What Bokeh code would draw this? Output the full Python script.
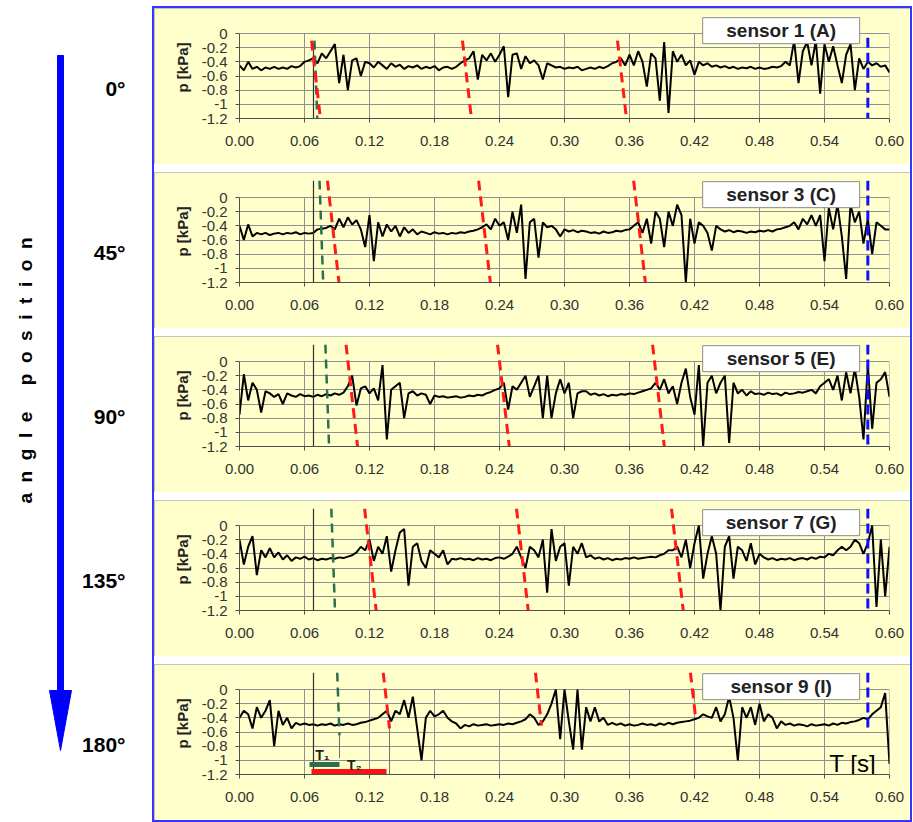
import numpy as np
from bokeh.plotting import figure
from bokeh.layouts import row, column
from bokeh.models import Range1d, FixedTicker, PrintfTickFormatter, Spacer
from bokeh.core.properties import value
from bokeh.embed import file_html
from bokeh.resources import INLINE

# ---------------- data ----------------
TIME = np.round(np.arange(151) * 0.004, 3)   # s, sampling grid of the read-off curves

SENSOR_NAMES = ["sensor 1 (A)", "sensor 3 (C)", "sensor 5 (E)", "sensor 7 (G)", "sensor 9 (I)"]
ANGLES = ["0°", "45°", "90°", "135°", "180°"]
X_TICKS = [0.00, 0.06, 0.12, 0.18, 0.24, 0.30, 0.36, 0.42, 0.48, 0.54, 0.60]
Y_TICKS = [0, -0.2, -0.4, -0.6, -0.8, -1.0, -1.2]
Y_TICK_LABELS = ["0", "-0.2", "-0.4", "-0.6", "-0.8", "-1", "-1.2"]

S1 = [-0.45, -0.52, -0.40, -0.50, -0.47, -0.52, -0.48, -0.50, -0.47, -0.50,
      -0.48, -0.50, -0.46, -0.48, -0.46, -0.40, -0.38, -0.35, -0.42, -0.28,
      -0.35, -0.25, -0.15, -0.70, -0.30, -0.80, -0.38, -0.35, -0.60, -0.40,
      -0.42, -0.48, -0.40, -0.45, -0.50, -0.42, -0.47, -0.44, -0.50, -0.46,
      -0.48, -0.45, -0.50, -0.47, -0.49, -0.46, -0.52, -0.48, -0.47, -0.50,
      -0.47, -0.42, -0.38, -0.35, -0.25, -0.65, -0.30, -0.38, -0.28, -0.40,
      -0.30, -0.18, -0.90, -0.30, -0.28, -0.50, -0.32, -0.42, -0.38, -0.45,
      -0.65, -0.42, -0.45, -0.48, -0.47, -0.50, -0.48, -0.49, -0.47, -0.52,
      -0.50, -0.48, -0.50, -0.47, -0.49, -0.46, -0.42, -0.40, -0.35, -0.45,
      -0.30, -0.45, -0.25, -0.40, -0.75, -0.28, -0.35, -0.95, -0.12, -1.12,
      -0.25, -0.40, -0.30, -0.45, -0.38, -0.58, -0.40, -0.45, -0.42, -0.47,
      -0.45, -0.48, -0.46, -0.49, -0.47, -0.50, -0.48, -0.49, -0.47, -0.50,
      -0.48, -0.50, -0.49, -0.47, -0.48, -0.46, -0.40, -0.45, -0.10, -0.70,
      -0.25, -0.12, -0.45, -0.10, -0.85, -0.15, -0.40, -0.18, -0.45, -0.70,
      -0.30, -0.15, -0.80, -0.35, -0.50, -0.40, -0.45, -0.42, -0.47, -0.45,
      -0.55]

S3 = [-0.40, -0.60, -0.38, -0.55, -0.50, -0.52, -0.50, -0.53, -0.51, -0.50,
      -0.52, -0.50, -0.51, -0.49, -0.52, -0.50, -0.51, -0.50, -0.45, -0.44,
      -0.43, -0.40, -0.45, -0.30, -0.42, -0.28, -0.38, -0.32, -0.45, -0.70,
      -0.25, -0.90, -0.35, -0.55, -0.38, -0.48, -0.40, -0.55, -0.42, -0.50,
      -0.45, -0.52, -0.48, -0.50, -0.52, -0.49, -0.51, -0.50, -0.52, -0.50,
      -0.51, -0.49, -0.50, -0.48, -0.47, -0.45, -0.42, -0.38, -0.45, -0.30,
      -0.40, -0.35, -0.60, -0.20, -0.50, -0.10, -1.15, -0.35, -0.30, -0.85,
      -0.35, -0.42, -0.40, -0.45, -0.55, -0.45, -0.48, -0.46, -0.49, -0.47,
      -0.48, -0.50, -0.49, -0.51, -0.48, -0.50, -0.49, -0.47, -0.48, -0.46,
      -0.45, -0.40, -0.35, -0.50, -0.30, -0.65, -0.20, -0.30, -0.70, -0.20,
      -0.40, -0.10, -0.25, -1.20, -0.30, -0.65, -0.35, -0.40, -0.50, -0.75,
      -0.40, -0.45, -0.48, -0.46, -0.49, -0.47, -0.48, -0.50, -0.48, -0.49,
      -0.47, -0.48, -0.46, -0.48, -0.45, -0.44, -0.42, -0.40, -0.35, -0.45,
      -0.30, -0.38, -0.25, -0.40, -0.25, -0.90, -0.15, -0.45, -0.10, -0.55,
      -1.15, -0.10, -0.35, -0.20, -0.65, -0.30, -0.80, -0.35, -0.40, -0.45,
      -0.45]

S5 = [-0.75, -0.18, -0.55, -0.30, -0.40, -0.72, -0.42, -0.45, -0.50, -0.46,
      -0.60, -0.45, -0.48, -0.50, -0.46, -0.49, -0.48, -0.50, -0.47, -0.49,
      -0.46, -0.48, -0.45, -0.47, -0.44, -0.35, -0.20, -0.62, -0.38, -0.35,
      -0.45, -0.38, -0.55, -0.05, -1.10, -0.40, -0.35, -0.30, -0.80, -0.45,
      -0.42, -0.48, -0.45, -0.47, -0.60, -0.48, -0.50, -0.49, -0.51, -0.50,
      -0.49, -0.51, -0.50, -0.48, -0.49, -0.47, -0.48, -0.45, -0.43, -0.40,
      -0.38, -0.30, -0.68, -0.35, -0.40, -0.30, -0.20, -0.50, -0.35, -0.20,
      -0.80, -0.20, -0.80, -0.45, -0.25, -0.45, -0.30, -0.80, -0.45, -0.42,
      -0.42, -0.47, -0.45, -0.48, -0.46, -0.49, -0.47, -0.48, -0.46, -0.47,
      -0.45, -0.46, -0.44, -0.42, -0.40, -0.38, -0.30, -0.40, -0.25, -0.45,
      -0.35, -0.60, -0.30, -0.10, -0.50, -0.75, -0.05, -1.20, -0.30, -0.20,
      -0.45, -0.30, -0.20, -1.15, -0.30, -0.45, -0.40, -0.48, -0.42, -0.46,
      -0.45, -0.47, -0.44, -0.46, -0.45, -0.48, -0.44, -0.46, -0.45, -0.43,
      -0.44, -0.42, -0.40, -0.45, -0.35, -0.30, -0.25, -0.40, -0.20, -0.55,
      -0.15, -0.45, -0.10, -0.50, -1.10, -0.05, -0.95, -0.30, -0.25, -0.15,
      -0.50]

S7 = [-0.20, -0.55, -0.30, -0.15, -0.70, -0.35, -0.45, -0.32, -0.45, -0.38,
      -0.48, -0.42, -0.50, -0.45, -0.47, -0.44, -0.48, -0.46, -0.49, -0.47,
      -0.48, -0.46, -0.47, -0.45, -0.46, -0.44, -0.42, -0.38, -0.30, -0.35,
      -0.20, -0.50, -0.30, -0.40, -0.15, -0.65, -0.35, -0.10, -0.05, -0.85,
      -0.30, -0.25, -0.50, -0.60, -0.35, -0.40, -0.45, -0.35, -0.55, -0.47,
      -0.48, -0.46, -0.48, -0.47, -0.49, -0.46, -0.48, -0.47, -0.49, -0.46,
      -0.45, -0.47, -0.44, -0.40, -0.30, -0.45, -0.60, -0.30, -0.35, -0.45,
      -0.20, -0.95, -0.05, -0.50, -0.30, -0.25, -0.85, -0.30, -0.40, -0.25,
      -0.45, -0.42, -0.47, -0.45, -0.48, -0.46, -0.49, -0.47, -0.48, -0.46,
      -0.47, -0.45, -0.47, -0.46, -0.45, -0.44, -0.45, -0.42, -0.40, -0.35,
      -0.35, -0.30, -0.45, -0.20, -0.60, -0.25, 0.00, -0.75, -0.40, -0.15,
      -0.40, -1.20, -0.30, -0.15, -0.75, -0.30, -0.35, -0.50, -0.25, -0.55,
      -0.40, -0.45, -0.48, -0.46, -0.49, -0.47, -0.48, -0.46, -0.49, -0.47,
      -0.46, -0.48, -0.45, -0.47, -0.44, -0.45, -0.40, -0.42, -0.35, -0.30,
      -0.35, -0.30, -0.20, -0.25, -0.40, -0.25, 0.00, -1.15, -0.20, -1.00,
      -0.30]

S9 = [-0.40, -0.30, -0.35, -0.55, -0.25, -0.40, -0.30, -0.15, -0.80, -0.30,
      -0.50, -0.40, -0.55, -0.47, -0.50, -0.48, -0.50, -0.49, -0.51, -0.49,
      -0.50, -0.48, -0.51, -0.49, -0.50, -0.48, -0.50, -0.49, -0.47, -0.46,
      -0.44, -0.42, -0.40, -0.35, -0.30, -0.45, -0.30, -0.35, -0.15, -0.40,
      -0.10, -0.55, -1.00, -0.40, -0.30, -0.38, -0.35, -0.30, -0.40, -0.45,
      -0.48, -0.55, -0.50, -0.52, -0.49, -0.51, -0.50, -0.49, -0.51, -0.50,
      -0.49, -0.50, -0.48, -0.49, -0.47, -0.45, -0.42, -0.35, -0.40, -0.50,
      -0.45, -0.35, -0.20, 0.00, -0.70, 0.00, -0.45, -0.85, 0.00, -0.85,
      -0.25, -0.45, -0.25, -0.45, -0.40, -0.50, -0.47, -0.50, -0.48, -0.51,
      -0.49, -0.51, -0.50, -0.48, -0.50, -0.49, -0.51, -0.48, -0.50, -0.47,
      -0.49, -0.47, -0.46, -0.45, -0.44, -0.42, -0.40, -0.35, -0.38, -0.40,
      -0.25, -0.45, -0.35, -0.10, -0.40, -1.00, -0.25, -0.40, -0.25, -0.50,
      -0.20, -0.45, -0.35, -0.40, -0.55, -0.45, -0.50, -0.48, -0.51, -0.49,
      -0.50, -0.52, -0.49, -0.51, -0.50, -0.49, -0.51, -0.48, -0.50, -0.47,
      -0.48, -0.46, -0.45, -0.43, -0.40, -0.42, -0.35, -0.30, -0.25, -0.05,
      -1.05]

SERIES = [S1, S3, S5, S7, S9]

# travelling pressure waves (start in top panel, end in bottom panel): time [s], pressure [kPa]
RED_T_START = [0.0665, 0.2058, 0.3489]
RED_T_END = [0.1385, 0.2788, 0.4209]
RED_P_START = [-0.10, -0.10, -0.10]
RED_P_END = [-0.55, -0.51, -0.38]
GREEN_T = (0.0692, 0.0923)
GREEN_P = (-0.10, -0.65)
BLUE_T = (0.58, 0.58)
BLUE_P = (-0.06, -0.60)
BLACK_T = (0.0683, 0.0683)
BLACK_P = (-0.14, -1.28)
T1_SPAN = (0.0646, 0.0923)
T1_LEVEL = -1.06
T2_SPAN = (0.0665, 0.1357)
T2_LEVEL = -1.165

# ---------------- layout / style ----------------
YELLOW = "#FFFFCC"
LEFT_W = 154
TOP_GAP = 8
PANEL_W = 756
PANEL_H = 156
SPACING = 8
PX_PER_UNIT = 85 / 1.2
MB_L, MB_R, MB_T = 85, 21, 8
Y_TOP = (25 - MB_T) / PX_PER_UNIT           # frame reaches above p = 0 (room for the sensor box)
FRAME_H = int(round((1.2 + Y_TOP) * PX_PER_UNIT))
MB_B = PANEL_H - MB_T - FRAME_H
N = len(SERIES)
TOTAL_H = TOP_GAP + N * PANEL_H + (N - 1) * SPACING
PU = (PANEL_H + SPACING) / PX_PER_UNIT      # panel period in data units
FONT = "Liberation Sans"
GRID_COLOR = "#909090"


def wave_pieces(t0, p0, t1, p1):
    g0 = -p0
    g1 = (N - 1) * PU - p1
    pieces = []
    for k in range(N):
        lo = max(g0, k * PU - Y_TOP)
        hi = min(g1, k * PU + 1.2)
        if lo < hi:
            ta = t0 + (t1 - t0) * (lo - g0) / (g1 - g0)
            tb = t0 + (t1 - t0) * (hi - g0) / (g1 - g0)
            pieces.append(([ta, tb], [-(lo - k * PU), -(hi - k * PU)]))
        else:
            pieces.append(None)
    return pieces


red_pieces = [wave_pieces(a, b, c, d) for a, b, c, d in zip(RED_T_START, RED_P_START, RED_T_END, RED_P_END)]
green_pieces = wave_pieces(GREEN_T[0], GREEN_P[0], GREEN_T[1], GREEN_P[1])
blue_pieces = wave_pieces(BLUE_T[0], BLUE_P[0], BLUE_T[1], BLUE_P[1])
black_pieces = wave_pieces(BLACK_T[0], BLACK_P[0], BLACK_T[1], BLACK_P[1])

panels = []
for k in range(N):
    p = figure(width=PANEL_W, height=PANEL_H, x_range=Range1d(0, 0.6), y_range=Range1d(-1.2, Y_TOP),
               toolbar_location=None, output_backend="svg",
               min_border_left=MB_L, min_border_right=MB_R, min_border_top=MB_T, min_border_bottom=MB_B,
               background_fill_color=YELLOW, border_fill_color=YELLOW)
    p.styles = {"outline": "1px solid #b0b0b0", "outline-offset": "-1px"}
    p.outline_line_color = None
    p.xaxis.ticker = FixedTicker(ticks=X_TICKS)
    p.xaxis.formatter = PrintfTickFormatter(format="%.2f")
    p.yaxis.ticker = FixedTicker(ticks=Y_TICKS)
    p.yaxis.bounds = (-1.2, 0)
    p.yaxis.major_label_overrides = dict(zip(Y_TICKS, Y_TICK_LABELS))
    p.axis.axis_line_color = "#505050"
    p.axis.major_tick_line_color = "#505050"
    p.axis.major_tick_out = 4
    p.axis.major_tick_in = 0
    p.axis.minor_tick_line_color = None
    p.axis.major_label_text_font = FONT
    p.axis.major_label_text_font_size = "15px"
    p.axis.major_label_text_color = "#333333"
    p.yaxis.major_label_standoff = 8
    p.xaxis.major_label_standoff = 13
    p.yaxis.axis_label = "p [kPa]"
    p.yaxis.axis_label_text_font = FONT
    p.yaxis.axis_label_text_font_style = "bold"
    p.yaxis.axis_label_text_font_size = "15px"
    p.yaxis.axis_label_text_color = "#222222"
    p.yaxis.axis_label_standoff = 8
    p.xgrid.grid_line_color = None
    p.ygrid.grid_line_color = GRID_COLOR
    # vertical grid lines limited to the plot area (0 .. -1.2)
    p.segment(x0=X_TICKS, y0=[-1.2] * len(X_TICKS), x1=X_TICKS, y1=[0] * len(X_TICKS),
              line_color=GRID_COLOR, line_width=1)

    p.line(TIME, SERIES[k], line_color="black", line_width=2)

    if black_pieces[k]:
        xs, ys = black_pieces[k]
        p.line(xs, ys, line_color="#303030", line_width=1.2)
    if green_pieces[k]:
        xs, ys = green_pieces[k]
        p.line(xs, ys, line_color="#2e6e4e", line_width=2.5, line_dash="9 6")
    for rp in red_pieces:
        if rp[k]:
            xs, ys = rp[k]
            p.line(xs, ys, line_color="#ff1a1a", line_width=3, line_dash="10 6")
    if blue_pieces[k]:
        xs, ys = blue_pieces[k]
        p.line(xs, ys, line_color="#1010ff", line_width=3, line_dash="10 5")

    if k == N - 1:
        # T1 / T2 duration markers
        p.line([T1_SPAN[1], T1_SPAN[1]], [GREEN_P[1], -0.97], line_color="#707070", line_width=1)
        p.line([RED_T_END[0], RED_T_END[0]], [RED_P_END[0], -1.2], line_color="#707070", line_width=1)
        p.line(list(T1_SPAN), [T1_LEVEL, T1_LEVEL], line_color="#2e6e4e", line_width=5)
        p.line(list(T2_SPAN), [T2_LEVEL, T2_LEVEL], line_color="#ff1010", line_width=6)
        p.text(x=[0.0766, 0.106], y=[-0.92, -1.07], text=["T\u2081", "T\u2082"],
               text_font=value(FONT), text_font_size="14px", text_font_style="bold",
               text_color="#222222", text_align="center", text_baseline="middle")
        p.text(x=[0.566], y=[-1.05], text=["T [s]"], text_font=value(FONT),
               text_font_size="24px", text_color="black", text_align="center",
               text_baseline="middle")

    # sensor name box
    p.rect(x=[0.5], y=[0.04], width=157, height=26, width_units="screen", height_units="screen",
           fill_color="white", line_color="#8a8a8a", line_width=1)
    p.text(x=[0.5], y=[0.04], text=[SENSOR_NAMES[k]], text_font=value(FONT), text_font_size="19px",
           text_font_style="bold", text_color="#222222", text_align="center", text_baseline="middle")
    panels.append(p)

right = column(*panels, spacing=SPACING, styles={"outline": "2px solid #3535ff"})
right_wrap = column(Spacer(width=PANEL_W, height=TOP_GAP), right, spacing=0)

# left side: arrow and angle labels (page-like coordinates, y downwards)
left = figure(width=LEFT_W, height=TOTAL_H, x_range=Range1d(0, LEFT_W), y_range=Range1d(TOTAL_H, 0),
              toolbar_location=None, output_backend="svg", x_axis_location=None, y_axis_location=None,
              min_border=0, background_fill_color="white", border_fill_color="white")
left.grid.visible = False
left.outline_line_color = None
ARROW_X = 60
left.quad(left=[ARROW_X - 3], right=[ARROW_X + 3], top=[55], bottom=[692], color="#0000ff")
left.patch([ARROW_X - 11, ARROW_X + 11, ARROW_X], [690, 690, 750], color="#0000ff")
nb = "\u00a0"
angle_txt = (nb * 2).join("angle") + nb * 5 + (nb * 2).join("position")
left.text(x=[25], y=[370], text=[angle_txt], angle=np.pi / 2, text_font=value(FONT),
          text_font_size="19px", text_font_style="bold", text_color="black",
          text_align="center", text_baseline="middle")
centers = [TOP_GAP + k * (PANEL_H + SPACING) + 80 for k in range(N)]
left.text(x=[125] * N, y=centers, text=ANGLES, text_font=value(FONT), text_font_size="21px",
          text_font_style="bold", text_color="black", text_align="right", text_baseline="middle")

layout = row(left, right_wrap)
open("out.html", "w").write(file_html(layout, INLINE))
